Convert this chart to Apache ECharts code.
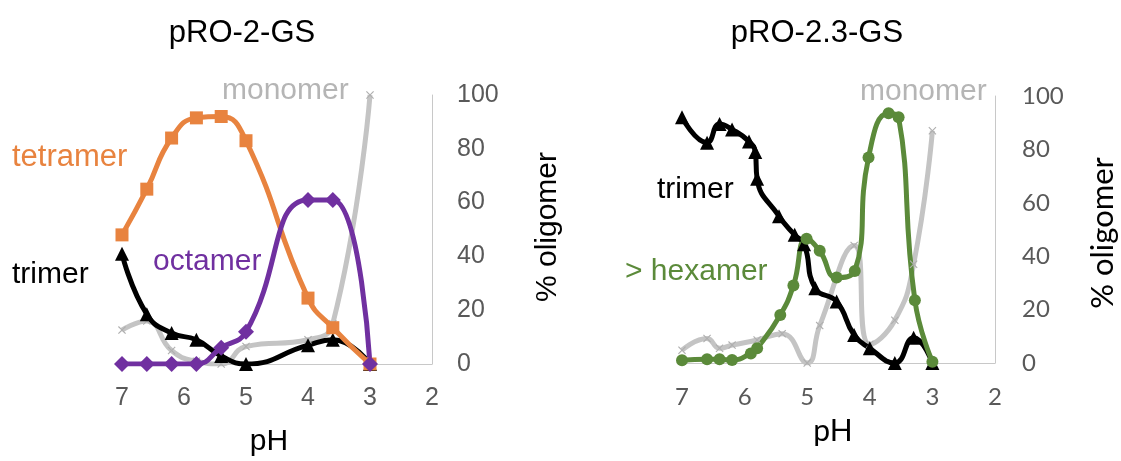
<!DOCTYPE html>
<html>
<head>
<meta charset="utf-8">
<script src="https://cdn.jsdelivr.net/npm/echarts/dist/echarts.min.js"></script>
<style>
  html, body { margin: 0; padding: 0; background: #ffffff; }
  #chart { width: 1121px; height: 461px; }
</style>
</head>
<body>
<div id="chart"></div>
<script>
// Axis ticks shared by both panels
const phTicks = [2, 3, 4, 5, 6, 7];
const pctTicks = [0, 20, 40, 60, 80, 100];

// pRO-2-GS (left panel)
const phA = [7.0, 6.6, 6.2, 5.8, 5.4, 5.0, 4.0, 3.6, 3.0];
const tetramerA = [48, 65, 84, 91.5, 92, 83, 24.5, 13.5, 0];
const octamerA = [0, 0, 0, 0, 6, 12, 61, 61, 0];
const trimerA = [41, 18.5, 11.5, 9, 3, 0, 7, 9, 0];
const monomerA = [12.6, 16, 5, 1, 0, 6.5, 9, 15, 100];

// pRO-2.3-GS (right panel)
const phHexB = [7.0, 6.6, 6.4, 6.2, 5.9, 5.8, 5.43, 5.22, 5.01, 4.8, 4.53, 4.24, 4.02, 3.7, 3.54, 3.28, 3.0];
const hexamerB = [1, 1.4, 1.4, 1.1, 3.6, 5.5, 18, 29, 46.5, 42, 32, 34.5, 77, 93.5, 92, 23.5, 0.5];
const phTriB = [7.0, 6.6, 6.4, 6.2, 5.93, 5.83, 5.8, 5.45, 5.2, 5.05, 4.87, 4.53, 4.25, 4.0, 3.6, 3.3, 3.0];
const trimerB = [92, 82.5, 89.5, 87.5, 83, 79, 69, 55, 48, 44.5, 28, 23, 10.5, 5.5, 0, 9.5, 0];
const phMonB = [7.0, 6.6, 6.4, 6.2, 5.8, 5.4, 5.0, 4.8, 4.25, 4.0, 3.6, 3.3, 3.0];
const monomerB = [4.8, 9.2, 5.5, 6.7, 8.6, 11, 0, 14, 44, 7, 16, 37, 87];

const ORANGE = '#E8833F';
const PURPLE = '#7030A0';
const GREEN = '#5B8A3A';
const GREY = '#C4C4C4';
const BLACK = '#000000';
const TICK = '#595959';
const SANS = '"Liberation Sans", Arial, Helvetica, sans-serif';
const CAL = 'Lato, "Open Sans", sans-serif';
const X_MARK = 'path://M0,1L1,0L5,4L9,0L10,1L6,5L10,9L9,10L5,6L1,10L0,9L4,5Z';

const pairs = (xs, ys) => xs.map((x, i) => [x, ys[i]]);

function lineSeries(name, idx, xs, ys, color, symbol, size, markColor) {
  return {
    name: name,
    type: 'line',
    xAxisIndex: idx,
    yAxisIndex: idx,
    data: pairs(xs, ys),
    smooth: 0.5,
    symbol: symbol,
    symbolSize: size,
    showAllSymbol: true,
    lineStyle: { color: color, width: 5 },
    itemStyle: { color: markColor || color },
    emphasis: { disabled: true },
    animation: false
  };
}

function xAxisCfg(idx, font, size) {
  return {
    type: 'value', gridIndex: idx,
    min: phTicks[0], max: phTicks[phTicks.length - 1], interval: 1,
    inverse: true,
    axisLine: { show: true, onZero: false, lineStyle: { color: '#C8C8C8', width: 1 } },
    axisTick: { show: false },
    splitLine: { show: false },
    axisLabel: { color: TICK, fontFamily: font, fontSize: size, margin: 22,
      customValues: phTicks }
  };
}

function yAxisCfg(idx, font, size, margin) {
  return {
    type: 'value', gridIndex: idx, position: 'right',
    min: pctTicks[0], max: pctTicks[pctTicks.length - 1], interval: 20,
    axisLine: { show: true, onZero: false, lineStyle: { color: '#C8C8C8', width: 1 } },
    axisTick: { show: false },
    splitLine: { show: false },
    axisLabel: { color: TICK, fontFamily: font, fontSize: size, margin: margin,
      customValues: pctTicks }
  };
}

function txt(x, y, text, color, font, size, align, rot) {
  return {
    type: 'text', x: x, y: y, rotation: rot || 0,
    style: { text: text, fill: color, font: size + 'px ' + font,
      textAlign: align || 'center', textVerticalAlign: 'middle' }
  };
}

const option = {
  backgroundColor: '#ffffff',
  animation: false,
  grid: [
    { left: 122, right: 689, top: 95, bottom: 97 },
    { left: 682, right: 126, top: 96, bottom: 98 }
  ],
  xAxis: [xAxisCfg(0, SANS, 25), xAxisCfg(1, CAL, 24)],
  yAxis: [yAxisCfg(0, SANS, 25, 25), yAxisCfg(1, CAL, 24, 27)],
  series: [
    lineSeries('monomer', 0, phA, monomerA, GREY, X_MARK, 8, '#AFAFAF'),
    lineSeries('trimer', 0, phA, trimerA, BLACK, 'triangle', 14),
    lineSeries('tetramer', 0, phA, tetramerA, ORANGE, 'rect', 13),
    lineSeries('octamer', 0, phA, octamerA, PURPLE, 'diamond', 16),
    lineSeries('monomer', 1, phMonB, monomerB, GREY, X_MARK, 8, '#AFAFAF'),
    lineSeries('trimer', 1, phTriB, trimerB, BLACK, 'triangle', 14),
    lineSeries('> hexamer', 1, phHexB, hexamerB, GREEN, 'circle', 12)
  ],
  graphic: [
    txt(242, 33, 'pRO-2-GS', '#000', SANS, 31),
    txt(817, 33, 'pRO-2.3-GS', '#000', SANS, 31),
    txt(269, 442, 'pH', '#000', SANS, 30),
    txt(833, 431, 'pH', '#000', CAL, 30),
    txt(548, 227, '% oligomer', '#000', SANS, 30, 'center', Math.PI / 2),
    txt(1103, 233, '% oligomer', '#000', CAL, 31, 'center', Math.PI / 2),
    txt(222, 91, 'monomer', '#B5B5B5', SANS, 30, 'left'),
    txt(12, 157, 'tetramer', ORANGE, SANS, 31, 'left'),
    txt(12, 275, 'trimer', BLACK, SANS, 30, 'left'),
    txt(153, 262, 'octamer', PURPLE, SANS, 30, 'left'),
    txt(860, 92, 'monomer', '#B5B5B5', SANS, 30, 'left'),
    txt(657, 190, 'trimer', BLACK, SANS, 30, 'left'),
    txt(625, 272, '> hexamer', GREEN, SANS, 30, 'left')
  ]
};

const chart = echarts.init(document.getElementById('chart'), null, { renderer: 'canvas' });
chart.setOption(option);
</script>
</body>
</html>
